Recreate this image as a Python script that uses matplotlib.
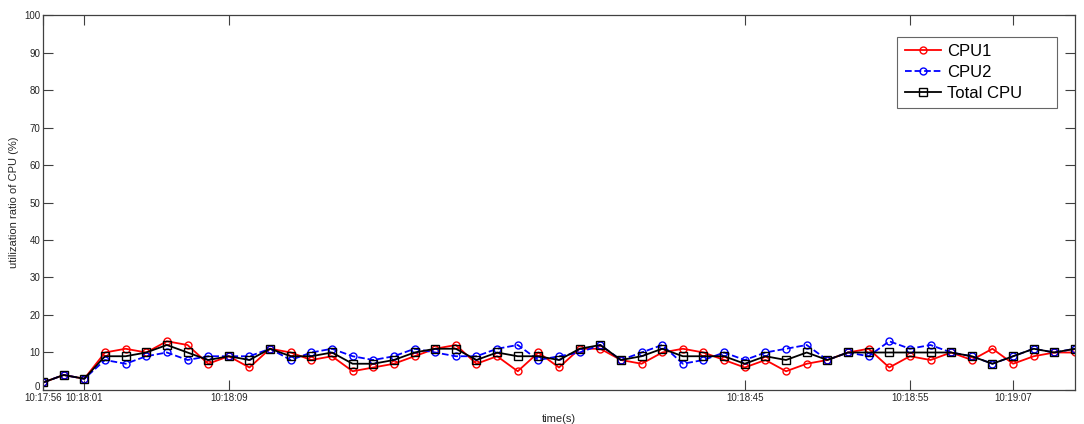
import numpy as np
import matplotlib
matplotlib.use('Agg')
import matplotlib.pyplot as plt
import matplotlib.transforms as mtransforms

plt.rcParams['font.family'] = ['Liberation Sans', 'DejaVu Sans']

# sample index and labelled ticks
tick_pos = [0, 2, 9, 34, 42, 47]
tick_labels = ['10:17:56', '10:18:01', '10:18:09', '10:18:45', '10:18:55', '10:19:07']

cpu1 = [2, 4, 3, 10, 11, 10, 13, 12, 7, 9, 6, 11, 10, 8, 9, 5, 6, 7, 9, 11,
        12, 7, 9, 5, 10, 6, 11, 11, 8, 7, 10, 11, 10, 8, 6, 8, 5, 7, 8, 10,
        11, 6, 9, 8, 10, 8, 11, 7, 9, 10, 10]
cpu2 = [2, 4, 3, 8, 7, 9, 10, 8, 9, 9, 9, 11, 8, 10, 11, 9, 8, 9, 11, 10,
        9, 9, 11, 12, 8, 9, 10, 12, 8, 10, 12, 7, 8, 10, 8, 10, 11, 12, 8, 10,
        9, 13, 11, 12, 10, 9, 7, 9, 11, 10, 11]
total = [2, 4, 3, 9, 9, 10, 12, 10, 8, 9, 8, 11, 9, 9, 10, 7, 7, 8, 10, 11,
         11, 8, 10, 9, 9, 8, 11, 12, 8, 9, 11, 9, 9, 9, 7, 9, 8, 10, 8, 10,
         10, 10, 10, 10, 10, 9, 7, 9, 11, 10, 11]

x = np.arange(len(cpu1))

fig = plt.figure(figsize=(10.84, 4.24), dpi=100)
ax = fig.add_axes([0.0397, 0.0802, 0.952, 0.8844])

ax.plot(x, cpu1, '-o', color='red', lw=1.3, ms=5, mfc='none', mew=1.0, label='CPU1')
ax.plot(x, cpu2, '--o', color='blue', lw=1.3, ms=5, mfc='none', mew=1.0, label='CPU2')
# trailing spaces give the MATLAB-style empty room on the right of the legend
ax.plot(x, total, '-s', color='black', lw=1.3, ms=5.5, mfc='none', mew=1.0, label='Total CPU      ')

ax.set_xlim(0, 50)
ax.set_ylim(0, 100)
ax.set_yticks(range(0, 101, 10))
ax.set_xticks(tick_pos)
ax.set_xticklabels(tick_labels)

for s in ax.spines.values():
    s.set_color('#404040')
    s.set_linewidth(0.9)
ax.tick_params(direction='in', length=7, width=0.8, color='#404040',
               top=True, right=True, labelsize=7, labelcolor='#262626', pad=2)

# lift the "0" label a little so it clears the first time label
zero_lbl = ax.get_yticklabels()[0]
zero_lbl.set_transform(zero_lbl.get_transform() +
                       mtransforms.ScaledTranslation(0, 3 / 72, fig.dpi_scale_trans))

ax.set_xlabel('time(s)', fontsize=8, color='#262626', labelpad=8)
ax.set_ylabel('utilization ratio of CPU (%)', fontsize=8, color='#262626', labelpad=4)

leg = ax.legend(loc='upper right', bbox_to_anchor=(0.983, 0.942), fontsize=12,
                frameon=True, fancybox=False, edgecolor='#404040',
                handlelength=2.2, borderpad=0.45, labelspacing=0.35,
                handletextpad=0.35, borderaxespad=0)
leg.get_frame().set_linewidth(0.8)

fig.savefig('out.png', dpi=100)
